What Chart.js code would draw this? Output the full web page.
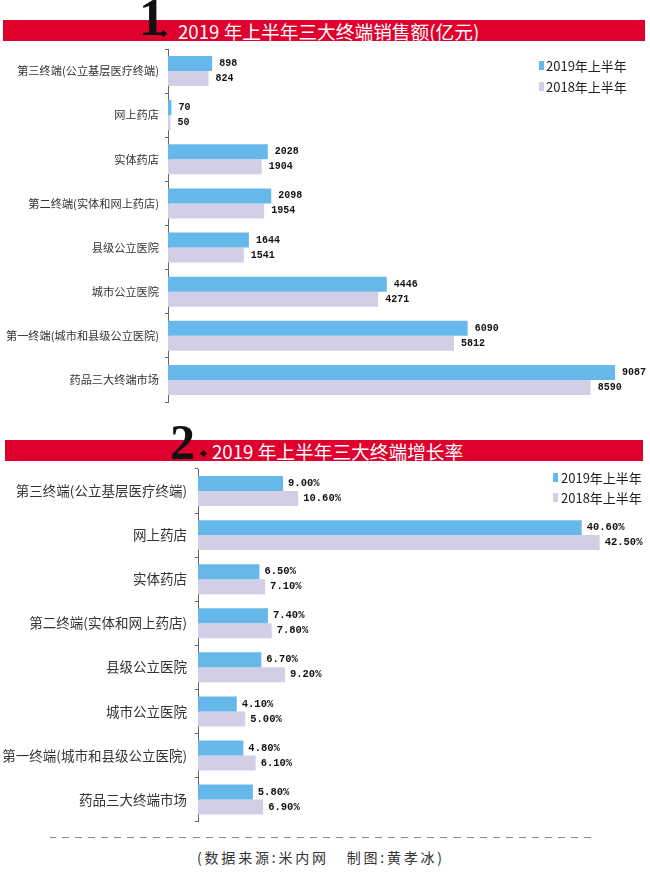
<!DOCTYPE html>
<html><head><meta charset="utf-8">
<script src="https://cdn.jsdelivr.net/npm/chart.js@4/dist/chart.umd.min.js"></script>
<style>
html,body{margin:0;padding:0;background:#fff}
#page{position:relative;width:650px;height:882px;overflow:hidden;font-family:"Noto Sans CJK SC",sans-serif}
canvas{position:absolute;left:0}
.bar{position:absolute;background:#e0002d;height:21px}
.t{position:absolute;color:#fff;font-size:18.7px;line-height:21px;white-space:pre}
.num{position:absolute;font-family:"Liberation Serif",serif;font-weight:700;color:#111}
.dia{position:absolute;width:5px;height:5px;background:#111;transform:rotate(45deg)}
.lg{position:absolute;font-size:13px;line-height:16px;color:#222;white-space:pre}
.sw{position:absolute;width:5px;height:9px}
#dash{position:absolute;left:50px;top:837px;width:546px;border-top:1px dashed #888;border-image:repeating-linear-gradient(90deg,#888 0 7px,transparent 7px 13px) 1}
#src{position:absolute;left:197px;top:847px;font-size:14px;line-height:20px;letter-spacing:2.8px;color:#333;white-space:pre;font-family:"Noto Sans CJK SC"}
</style></head><body>
<div id="page">
<div class="bar" style="left:3px;top:20px;width:642px"></div>
<div class="num" style="left:139px;top:-8px;font-size:52px;line-height:52px">1</div>
<div class="dia" style="left:161px;top:31px"></div>
<div class="t" style="left:178px;top:20px">2019 年上半年三大终端销售额(亿元)</div>
<div class="bar" style="left:5px;top:440px;width:638px"></div>
<div class="num" style="left:170px;top:417px;font-size:50px;line-height:50px">2</div>
<div class="dia" style="left:201px;top:451px"></div>
<div class="t" style="left:212px;top:440px">2019 年上半年三大终端增长率</div>
<canvas id="c1"></canvas>
<canvas id="c2"></canvas>
<div class="sw" style="left:539px;top:61px;background:#67b8ea"></div>
<div class="lg" style="left:546px;top:58px">2019年上半年</div>
<div class="sw" style="left:539px;top:82px;background:#d2cee6"></div>
<div class="lg" style="left:546px;top:79px">2018年上半年</div>
<div class="sw" style="left:553px;top:473px;background:#67b8ea"></div>
<div class="lg" style="left:561px;top:470px">2019年上半年</div>
<div class="sw" style="left:553px;top:493px;background:#d2cee6"></div>
<div class="lg" style="left:561px;top:490px">2018年上半年</div>
<div id="dash"></div>
<div id="src">(数据来源:米内网   制图:黄孝冰)</div>
</div>
<script>
const categories = ["第三终端(公立基层医疗终端)","网上药店","实体药店","第二终端(实体和网上药店)","县级公立医院","城市公立医院","第一终端(城市和县级公立医院)","药品三大终端市场"];
const seriesNames = ["2019年上半年","2018年上半年"];
const sales2019 = [898,70,2028,2098,1644,4446,6090,9087];
const sales2018 = [824,50,1904,1954,1541,4271,5812,8590];
const growth2019 = [9.0,40.6,6.5,7.4,6.7,4.1,4.8,5.8];
const growth2018 = [10.6,42.5,7.1,7.8,9.2,5.0,6.1,6.9];
const blue = "#67b8ea", lilac = "#d2cee6";

const valueLabels = {
  id:"valueLabels",
  afterDatasetsDraw(chart,args,opts){
    const ctx = chart.ctx; ctx.save();
    ctx.font = "bold "+opts.size+"px 'Liberation Mono', monospace";
    ctx.fillStyle = "#111"; ctx.textBaseline = "middle"; ctx.textAlign = "left";
    chart.data.datasets.forEach((ds,i)=>{
      chart.getDatasetMeta(i).data.forEach((el,j)=>{
        ctx.fillText(opts.format(ds.data[j]), el.x+opts.gap, el.y);
      });
    });
    ctx.restore();
  }
};

function make(id, top, height, padTop, padBottom, axisWidth, maxV, a, b, fontSize, tickPad, format, gap, size){
  const cv = document.getElementById(id);
  cv.style.top = top+"px";
  cv.style.width = "650px"; cv.style.height = height+"px";
  cv.width = 650; cv.height = height;
  new Chart(cv,{
    type:"bar",
    data:{labels:categories,datasets:[
      {label:seriesNames[0],data:a,backgroundColor:blue,borderWidth:0},
      {label:seriesNames[1],data:b,backgroundColor:lilac,borderWidth:0}
    ]},
    plugins:[valueLabels],
    options:{
      indexAxis:"y",responsive:false,animation:false,devicePixelRatio:1,
      layout:{padding:{top:padTop,bottom:padBottom,left:0,right:10}},
      datasets:{bar:{barPercentage:1,categoryPercentage:0.68}},
      plugins:{legend:{display:false},tooltip:{enabled:false},title:{display:false},
        valueLabels:{format,gap,size}},
      scales:{
        x:{display:false,min:0,max:maxV},
        y:{
          afterFit(s){s.width=axisWidth;s.paddingTop=0;s.paddingBottom=0;},
          border:{display:true,color:"#666",width:1},
          grid:{drawOnChartArea:false,drawTicks:true,tickLength:3,color:"#666"},
          ticks:{color:"#333",padding:tickPad,autoSkip:false,font:{size:fontSize,family:"'Noto Sans CJK SC'"}}
        }
      }
    }
  });
}
make("c1",40,369,9,7,168,9593,sales2019,sales2018,11.2,6,v=>String(v),7,10);
make("c2",459,371,10,8.4,198,46.77,growth2019,growth2018,13.5,8,v=>v.toFixed(2)+"%",5,10.5);
</script>
</body></html>
